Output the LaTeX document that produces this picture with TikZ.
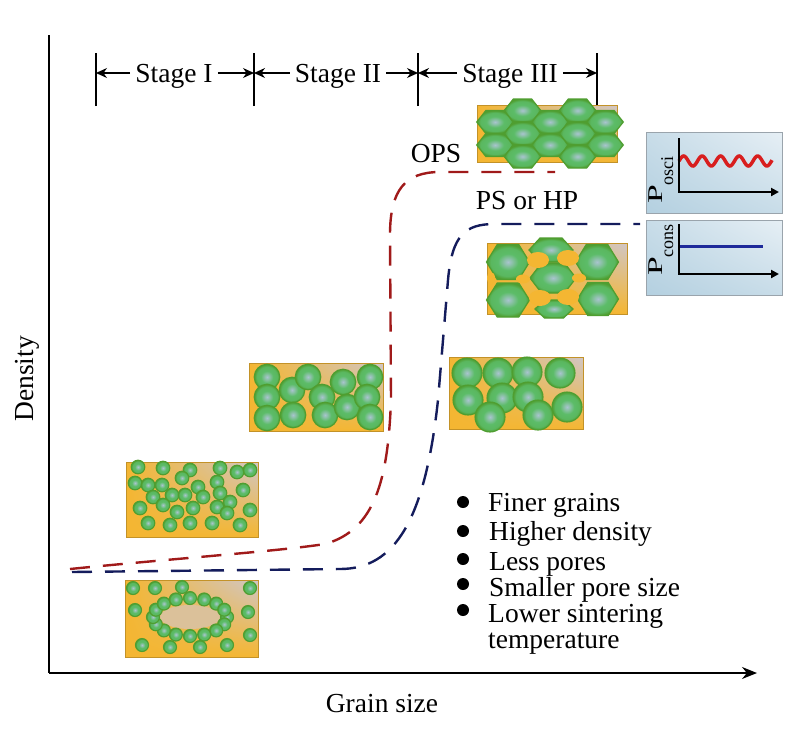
\documentclass[tikz,border=0pt]{standalone}
\usepackage{fontspec}
\usepackage{graphicx}
\setmainfont{Liberation Serif}
\usetikzlibrary{arrows.meta,shadings}
\definecolor{ybg}{HTML}{F4B632}
\definecolor{pbg}{HTML}{D0C6C6}
\definecolor{gout}{HTML}{5CBC68}
\definecolor{gin}{HTML}{BCC6E8}
\definecolor{gedge}{HTML}{4F9E30}
\definecolor{redc}{HTML}{A01A1A}
\definecolor{bluec}{HTML}{141C5C}
\definecolor{ibg1}{HTML}{B4D0E0}
\definecolor{ibg2}{HTML}{E6EFF5}
\definecolor{iedge}{HTML}{9AA4AC}
\definecolor{wave}{HTML}{D81E1E}
\definecolor{cline}{HTML}{1E2A9A}
\pgfdeclareradialshading{grainsh}{\pgfpoint{0bp}{0bp}}{color(0bp)=(gin!80!gout); color(4bp)=(gin!55!gout); color(12bp)=(gout); color(20bp)=(gout!85!gedge); color(25bp)=(gedge); color(50bp)=(gedge)}
\tikzset{
  lbl/.style={font=\fontsize{27.5}{30}\selectfont, inner sep=0pt},
  item/.style={lbl, anchor=base west},
  stagelbl/.style={lbl, inner xsep=5pt},
  sarrow/.style={line width=1.2pt, -{Stealth[length=11pt,width=10pt]}},
  tick/.style={line width=1.2pt},
  axisline/.style={line width=1.5pt},
  bgbox/.style={lower left=ybg, lower right=ybg, upper left=ybg, upper right=pbg, draw=ybg!80!black, line width=0.5pt},
  grain/.style={shading=grainsh, draw=gedge, line width=1.1pt},
  pore/.style={fill=ybg},
  inset/.style={lower left=ibg1, lower right=ibg1!60!ibg2, upper left=ibg1!60!ibg2, upper right=ibg2, draw=iedge, line width=1pt},
  iaxis/.style={line width=2pt, -{Triangle[length=8pt,width=8pt]}},
  curve/.style={line width=2.4pt, dash pattern=on 20pt off 13pt},
  bul/.style={circle, fill=black, inner sep=0pt, minimum size=12pt},
  plabel/.style={rotate=90, anchor=base west, inner sep=0pt, font=\fontsize{21}{21}\selectfont}
}
\newcommand\hexa[4]{\shade[grain, line width=1.2pt] (#1-#3,#2) -- (#1-#3/2,#2-#4) -- (#1+#3/2,#2-#4) -- (#1+#3,#2) -- (#1+#3/2,#2+#4) -- (#1-#3/2,#2+#4) -- cycle;}
\begin{document}
\begin{tikzpicture}[x=1pt,y=-1pt]
\useasboundingbox (0,0) rectangle (800,742);
\fill[white] (0,0) rectangle (800,742);

% axes
\coordinate (ytop) at (49,35);
\coordinate (O) at (49,673);
\coordinate (xend) at (757,673);
\draw[axisline] (ytop) -- (O);
\draw[axisline, -{Stealth[length=15pt,width=12pt]}] (O) -- (xend);
\node[lbl, anchor=base] (xlab) at (382,712) {Grain size};
\node[lbl, rotate=90, anchor=base] (ylab) at (33,379) {Density};

% stage bar
\coordinate (t1) at (96,73);
\coordinate (t2) at (254,73);
\coordinate (t3) at (418,73);
\coordinate (t4) at (597,73);
\foreach \t in {t1,t2,t3,t4}{\draw[tick] ([yshift=-33pt]\t) -- ([yshift=20pt]\t);}
\node[stagelbl, anchor=base] (s1) at (174,82) {Stage I};
\node[stagelbl, anchor=base] (s2) at (338,82) {Stage II};
\node[stagelbl, anchor=base] (s3) at (510,82) {Stage III};
\draw[sarrow] (s1.west |- t1) -- (t1);
\draw[sarrow] (s1.east |- t1) -- (t2);
\draw[sarrow] (s2.west |- t2) -- (t2);
\draw[sarrow] (s2.east |- t2) -- (t3);
\draw[sarrow] (s3.west |- t3) -- (t3);
\draw[sarrow] (s3.east |- t3) -- (t4);

% Box A (bottom, stage I)
\shade[bgbox] (125,580) rectangle (258,657);
\fill[pbg!70!ybg] (190,617) ellipse[x radius=30, y radius=12];
\foreach \x/\y in {133/588,155/588,182/587,250/588,135/610,248/612,250/635,142/645,170/647,200/647,227/645}
  {\shade[grain] (\x,\y) circle[radius=6.5];}
\foreach \a in {0,22.5,...,337.5}
  {\shade[grain] ({190+37*cos(\a)},{617+19*sin(\a)}) circle[radius=6.5];}

% Box B (stage I upper)
\shade[bgbox] (126,462) rectangle (258,537);
\foreach \x/\y in {138/467,163/468,190/470,220/468,237/472,250/470,135/483,148/485,162/485,182/478,198/487,217/482,243/490,153/497,172/495,185/495,203/497,220/493,230/502,140/508,163/505,177/512,193/508,217/507,227/513,250/510,148/523,170/525,190/523,212/523,240/525}
  {\shade[grain] (\x,\y) circle[radius=6.8];}

% Box C (stage II)
\shade[bgbox] (249,363) rectangle (383,431);
\foreach \x/\y in {267/377,267/397,267/418,292/390,293/415,308/377,322/397,325/415,343/382,347/407,370/377,367/397,370/417}
  {\shade[grain] (\x,\y) circle[radius=12.8];}

% Box D (stage III, PS)
\shade[bgbox] (449,357) rectangle (583,429);
\foreach \x/\y in {467/373,498/373,527/372,560/373,468/400,502/398,528/397,567/407,490/417,538/415}
  {\shade[grain] (\x,\y) circle[radius=15];}

% Box E (hexagons with pores)
\shade[bgbox] (487,243) rectangle (627,314);
\hexa{508}{262}{21.5}{17.5}
\hexa{508}{300}{21.5}{17}
\hexa{551}{250}{22}{12}
\hexa{553}{278}{23}{15}
\hexa{554}{309}{19}{9}
\hexa{597}{262}{21.5}{17.5}
\hexa{598}{299}{20.5}{16.5}
\foreach \x/\y/\rx/\ry in {538/260/11/8,568/258/11/8,540/298/11/8,568/297/11/8,523/279/7/4.5,579/278/7/4.5,491/278/4/6}
  {\fill[pore] (\x,\y) ellipse[x radius=\rx, y radius=\ry];}

% Box F (dense hexagons, OPS)
\shade[bgbox] (477,105) rectangle (617,162);
\foreach \x in {495,550,605}{\foreach \y in {122,145}{\hexa{\x}{\y}{18.3}{11.5}}}
\foreach \x in {522.5,577.5}{\foreach \y in {110.5,133.5,156.5}{\hexa{\x}{\y}{18.3}{11.5}}}

% curves
\draw[curve, redc] (70,569) .. controls (180,558) and (280,551) .. (325,544)
  .. controls (375,530) and (388,480) .. (391,400) -- (390,235)
  .. controls (390,190) and (405,172) .. (440,172) -- (555,172);
\draw[curve, bluec] (72,572) -- (340,569)
  .. controls (395,569) and (425,520) .. (438,400) -- (448,280)
  .. controls (452,235) and (465,224) .. (495,224) -- (640,224);
\node[lbl, anchor=base] (ops) at (436,162) {OPS};
\node[lbl, anchor=base] (ps) at (527,209) {PS or HP};

% insets
\shade[inset] (646,132) rectangle (782,213);
\coordinate (i1a) at (679,138);
\coordinate (i1o) at (679,192);
\coordinate (i1b) at (779,192);
\draw[wave, line width=3.5pt, domain=0:93, samples=120, smooth] plot ({679+\x},{161-5*sin(\x/18.5*360)});
\draw[iaxis] (i1a) -- (i1o) -- (i1b);
\node[plabel] (p1) at (662,204) {\scalebox{1.6}[1]{P}\raisebox{-11pt}{\fontsize{18}{18}\selectfont osci}};

\shade[inset] (646,220) rectangle (782,295);
\coordinate (i2a) at (679,224);
\coordinate (i2o) at (679,274);
\coordinate (i2b) at (779,274);
\coordinate (c1) at (679,246);
\coordinate (c2) at (763,246);
\draw[cline, line width=3pt] (c1) -- (c2);
\draw[iaxis] (i2a) -- (i2o) -- (i2b);
\node[plabel] (p2) at (662,276) {\scalebox{1.6}[1]{P}\raisebox{-11pt}{\fontsize{18}{18}\selectfont cons}};

% bullet list
\node[bul] (b1) at (463,502) {};
\node[bul] (b2) at (463,531) {};
\node[bul] (b3) at (463,559) {};
\node[bul] (b4) at (463,584) {};
\node[bul] (b5) at (463,610) {};
\node[item] (l1) at (488,511) {Finer grains};
\node[item] (l2) at (489,540) {Higher density};
\node[item] (l3) at (489,570) {Less pores};
\node[item] (l4) at (489,596) {Smaller pore size};
\node[item] (l5) at (488,622) {Lower sintering};
\node[item] (l6) at (488,648) {temperature};
\end{tikzpicture}
\end{document}
